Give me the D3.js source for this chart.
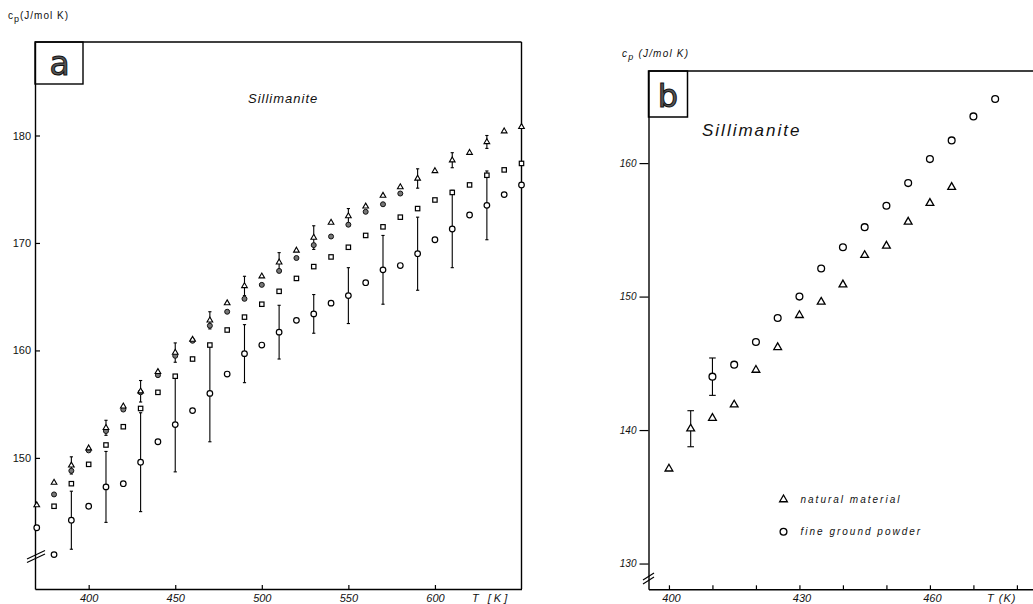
<!DOCTYPE html>
<html>
<head>
<meta charset="utf-8">
<script src="https://cdn.jsdelivr.net/npm/d3@7"></script>
<style>
  body { margin: 0; background: #fff; }
  svg { display: block; font-family: "Liberation Sans", Arial, sans-serif; }
</style>
</head>
<body>
<svg width="1033" height="604"></svg>
<script>
// ---- panel a: four runs, one point every 10 K ----
var tempsA = [370, 380, 390, 400, 410, 420, 430, 440, 450, 460, 470, 480, 490, 500, 510,
              520, 530, 540, 550, 560, 570, 580, 590, 600, 610, 620, 630, 640, 650];
var triangleA = [145.6, 147.7, 149.3, 150.9, 152.8, 154.8, 156.2, 158.0, 159.8, 161.0, 162.8, 164.4, 166.0, 166.9, 168.2,
                 169.3, 170.5, 171.9, 172.5, 173.4, 174.4, 175.2, 176.0, 176.7, 177.7, 178.4, 179.4, 180.4, 180.8];
var filledA = [null, 146.6, 148.8, 150.7, 152.5, 154.5, 156.1, 157.7, 159.5, 160.9, 162.3, 163.6, 164.8, 166.1, 167.4,
               168.6, 169.8, 170.6, 171.7, 172.9, 173.6, 174.6, null, null, null, null, null, null, null];
var squareA = [null, 145.5, 147.6, 149.4, 151.2, 152.9, 154.6, 156.1, 157.6, 159.2, 160.5, 161.9, 163.1, 164.3, 165.5,
               166.7, 167.8, 168.7, 169.6, 170.7, 171.5, 172.4, 173.2, 174.0, 174.7, 175.4, 176.3, 176.8, 177.4];
var circleA = [143.5, 141.0, 144.2, 145.5, 147.3, 147.6, 149.6, 151.5, 153.1, 154.4, 156.0, 157.8, 159.7, 160.5, 161.7,
               162.8, 163.4, 164.4, 165.1, 166.3, 167.5, 167.9, 169.0, 170.3, 171.3, 172.6, 173.5, 174.5, 175.4];
var circleErrA = [null, null, 2.7, null, 3.3, null, 4.6, null, 4.4, null, 4.5, null, 2.7, null, 2.5,
                  null, 1.8, null, 2.6, null, 3.2, null, 3.4, null, 3.6, null, 3.2, null, null];
var triangleErrA = [null, null, 0.8, null, 0.7, null, 1.0, null, 0.9, null, 0.8, null, 0.9, null, 0.9,
                    null, 1.1, null, 0.7, null, null, null, 0.9, null, 0.7, null, 0.6, null, null];
var yTicksA = [150, 160, 170, 180];
var xTicksA = [400, 450, 500, 550, 600];

// ---- panel b: natural material vs fine ground powder, every 5 K ----
var tempsB = [400, 405, 410, 415, 420, 425, 430, 435, 440, 445, 450, 455, 460, 465, 470, 475];
var naturalB = [137.1, 140.1, 140.9, 141.9, 144.5, 146.2, 148.6, 149.6, 150.9, 153.1, 153.8, 155.6, 157.0, 158.2, null, null];
var powderB = [null, null, 144.0, 144.9, 146.6, 148.4, 150.0, 152.1, 153.7, 155.2, 156.8, 158.5, 160.3, 161.7, 163.5, 164.8];
var naturalErrB = [null, 1.35, null, null, null, null, null, null, null, null, null, null, null, null, null, null];
var powderErrB = [null, null, 1.4, null, null, null, null, null, null, null, null, null, null, null, null, null];
var yTicksB = [130, 140, 150, 160];
var xTicksB = [400, 410, 420, 430, 440, 450, 460, 470, 480];
var xLabelsB = [400, 430, 460];

var svg = d3.select("svg");

function rows(temps, vals, errs) {
  return temps.map(function(t, i) {
    return { t: t, v: vals[i], e: errs ? errs[i] : null };
  }).filter(function(d) { return d.v != null; });
}

function styleAxis(g, italic, size) {
  g.select(".domain").attr("stroke", "#000").attr("stroke-width", 1.4);
  g.selectAll(".tick line").attr("stroke", "#000").attr("stroke-width", 1.2);
  g.selectAll(".tick text")
    .attr("fill", "#111")
    .style("font-family", '"Liberation Sans", Arial, sans-serif')
    .style("font-size", size + "px")
    .style("font-style", italic ? "italic" : "normal");
}

function errorBars(g, data, x, y, cap) {
  var eb = g.selectAll(null).data(data.filter(function(d) { return d.e; })).enter().append("g")
    .attr("stroke", "#000").attr("stroke-width", 1.1);
  eb.append("line")
    .attr("x1", function(d) { return x(d.t); }).attr("x2", function(d) { return x(d.t); })
    .attr("y1", function(d) { return y(d.v - d.e); }).attr("y2", function(d) { return y(d.v + d.e); });
  eb.append("line")
    .attr("x1", function(d) { return x(d.t) - cap; }).attr("x2", function(d) { return x(d.t) + cap; })
    .attr("y1", function(d) { return y(d.v + d.e); }).attr("y2", function(d) { return y(d.v + d.e); });
  eb.append("line")
    .attr("x1", function(d) { return x(d.t) - cap; }).attr("x2", function(d) { return x(d.t) + cap; })
    .attr("y1", function(d) { return y(d.v - d.e); }).attr("y2", function(d) { return y(d.v - d.e); });
}

// ================= panel a =================
var xA = d3.scaleLinear().domain([369, 650]).range([35, 521.5]);
var yA = d3.scaleLinear().domain([137.8, 188.7]).range([589, 42]);
var gA = svg.append("g");

// frame
gA.append("line").attr("x1", xA.range()[0]).attr("x2", xA.range()[1]).attr("y1", yA.range()[1]).attr("y2", yA.range()[1])
  .attr("stroke", "#000").attr("stroke-width", 1.4);
gA.append("line").attr("x1", xA.range()[1]).attr("x2", xA.range()[1]).attr("y1", yA.range()[0]).attr("y2", yA.range()[1])
  .attr("stroke", "#000").attr("stroke-width", 1.4);

var axBA = gA.append("g").attr("transform", "translate(0," + yA.range()[0] + ")")
  .call(d3.axisBottom(xA).tickValues(xTicksA).tickSize(-4).tickSizeOuter(0).tickPadding(5));
styleAxis(axBA, true, 11);
var axLA = gA.append("g").attr("transform", "translate(" + xA.range()[0] + ",0)")
  .call(d3.axisLeft(yA).tickValues(yTicksA).tickSize(-5).tickSizeOuter(0).tickPadding(4));
styleAxis(axLA, false, 11);

// axis break
[0, 3.5].forEach(function(off) {
  gA.append("line").attr("x1", 27).attr("y1", 559 + off).attr("x2", 45).attr("y2", 550.5 + off)
    .attr("stroke", "#000").attr("stroke-width", 1.1);
});

// label box
gA.append("rect").attr("x", 35).attr("y", 42).attr("width", 48).attr("height", 42)
  .attr("fill", "none").attr("stroke", "#000").attr("stroke-width", 1.4);
gA.append("text").attr("x", 59.5).attr("y", 74.5).attr("text-anchor", "middle")
  .style("font-family", '"DejaVu Sans", sans-serif').style("font-size", "33px")
  .attr("fill", "#555").attr("stroke", "#111").attr("stroke-width", 1).text("a");

gA.append("text").attr("x", 248).attr("y", 103).style("font-size", "13px").style("font-style", "italic")
  .style("letter-spacing", "1px").attr("fill", "#111").text("Sillimanite");

var yLabA = gA.append("text").attr("x", 8).attr("y", 19).style("font-size", "10px").attr("fill", "#111")
  .style("letter-spacing", "1px");
yLabA.append("tspan").text("c");
yLabA.append("tspan").attr("dy", 3).style("font-size", "9px").text("p");
yLabA.append("tspan").attr("dy", -3).text("(J/mol K)");

gA.append("text").attr("x", 472).attr("y", 602).style("font-size", "11px").style("font-style", "italic")
  .style("letter-spacing", "3px").attr("fill", "#111").text("T [K]");

var triA = rows(tempsA, triangleA, triangleErrA);
var cirA = rows(tempsA, circleA, circleErrA);
errorBars(gA, triA, xA, yA, 1.6);
errorBars(gA, cirA, xA, yA, 1.6);

gA.selectAll(null).data(rows(tempsA, squareA)).enter().append("rect")
  .attr("x", function(d) { return xA(d.t) - 2.2; }).attr("y", function(d) { return yA(d.v) - 2.2; })
  .attr("width", 4.4).attr("height", 4.4)
  .attr("fill", "#fff").attr("stroke", "#000").attr("stroke-width", 1.2);
gA.selectAll(null).data(rows(tempsA, filledA)).enter().append("circle")
  .attr("cx", function(d) { return xA(d.t); }).attr("cy", function(d) { return yA(d.v); }).attr("r", 2.5)
  .attr("fill", "#777").attr("stroke", "#111").attr("stroke-width", 1);
gA.selectAll(null).data(triA).enter().append("path")
  .attr("transform", function(d) { return "translate(" + xA(d.t) + "," + yA(d.v) + ")"; })
  .attr("d", d3.symbol().type(d3.symbolTriangle).size(14))
  .attr("fill", "#fff").attr("stroke", "#000").attr("stroke-width", 1.1);
gA.selectAll(null).data(cirA).enter().append("circle")
  .attr("cx", function(d) { return xA(d.t); }).attr("cy", function(d) { return yA(d.v); }).attr("r", 2.8)
  .attr("fill", "#fff").attr("stroke", "#000").attr("stroke-width", 1.2);

// ================= panel b =================
var xB = d3.scaleLinear().domain([395.3, 483.7]).range([648.5, 1033]);
var yB = d3.scaleLinear().domain([128.07, 166.9]).range([589.3, 71]);
var gB = svg.append("g");

gB.append("line").attr("x1", xB.range()[0]).attr("x2", xB.range()[1]).attr("y1", yB.range()[1]).attr("y2", yB.range()[1])
  .attr("stroke", "#000").attr("stroke-width", 1.5);

var axBB = gB.append("g").attr("transform", "translate(0," + yB.range()[0] + ")")
  .call(d3.axisBottom(xB).tickValues(xTicksB).tickSize(-4).tickSizeOuter(0).tickPadding(5)
    .tickFormat(function(d) { return xLabelsB.indexOf(d) >= 0 ? d : ""; }));
styleAxis(axBB, true, 11);
axBB.selectAll(".tick text").attr("dx", 2);
var axLB = gB.append("g").attr("transform", "translate(" + xB.range()[0] + ",0)")
  .call(d3.axisLeft(yB).tickValues(yTicksB).tickSize(9).tickSizeOuter(0).tickPadding(3));
styleAxis(axLB, true, 10);

// axis break
[0, 4].forEach(function(off) {
  gB.append("line").attr("x1", 643).attr("y1", 580 + off).attr("x2", 654).attr("y2", 573 + off)
    .attr("stroke", "#000").attr("stroke-width", 1.2);
});

gB.append("rect").attr("x", 648.5).attr("y", 71).attr("width", 39).attr("height", 46)
  .attr("fill", "none").attr("stroke", "#000").attr("stroke-width", 1.5);
gB.append("text").attr("x", 668).attr("y", 107).attr("text-anchor", "middle")
  .style("font-family", '"DejaVu Sans", sans-serif').style("font-size", "32px")
  .attr("fill", "#555").attr("stroke", "#111").attr("stroke-width", 1).text("b");

gB.append("text").attr("x", 702).attr("y", 136).style("font-size", "17px").style("font-style", "italic")
  .style("letter-spacing", "2px").attr("fill", "#111").text("Sillimanite");

var yLabB = gB.append("text").attr("x", 622).attr("y", 57).style("font-size", "10px").style("font-style", "italic")
  .style("letter-spacing", "1.2px").attr("fill", "#111");
yLabB.append("tspan").text("c");
yLabB.append("tspan").attr("dy", 3).style("font-size", "9px").text("p");
yLabB.append("tspan").attr("dy", -3).text(" (J/mol K)");

gB.append("text").attr("x", 987).attr("y", 602).style("font-size", "11px").style("font-style", "italic")
  .style("letter-spacing", "1px").attr("fill", "#111").text("T (K)");

var natB = rows(tempsB, naturalB, naturalErrB);
var powB = rows(tempsB, powderB, powderErrB);
errorBars(gB, natB, xB, yB, 3.3);
errorBars(gB, powB, xB, yB, 3.3);

var triSym = d3.symbol().type(d3.symbolTriangle).size(26);
gB.selectAll(null).data(natB).enter().append("path")
  .attr("transform", function(d) { return "translate(" + xB(d.t) + "," + yB(d.v) + ")"; })
  .attr("d", triSym).attr("fill", "#fff").attr("stroke", "#000").attr("stroke-width", 1.3);
gB.selectAll(null).data(powB).enter().append("circle")
  .attr("cx", function(d) { return xB(d.t); }).attr("cy", function(d) { return yB(d.v); }).attr("r", 3.4)
  .attr("fill", "#fff").attr("stroke", "#000").attr("stroke-width", 1.3);

// legend
var legend = [
  { label: "natural material", sym: "tri", y: 499.5 },
  { label: "fine ground powder", sym: "cir", y: 531.7 }
];
var lg = gB.selectAll(null).data(legend).enter().append("g")
  .attr("transform", function(d) { return "translate(783.5," + d.y + ")"; });
lg.filter(function(d) { return d.sym === "tri"; }).append("path").attr("d", triSym)
  .attr("fill", "#fff").attr("stroke", "#000").attr("stroke-width", 1.3);
lg.filter(function(d) { return d.sym === "cir"; }).append("circle").attr("r", 3.4)
  .attr("fill", "#fff").attr("stroke", "#000").attr("stroke-width", 1.3);
lg.append("text").attr("x", 17).attr("y", 3.5).style("font-size", "10px").style("font-style", "italic")
  .style("letter-spacing", "2px").attr("fill", "#111").text(function(d) { return d.label; });
</script>
</body>
</html>
